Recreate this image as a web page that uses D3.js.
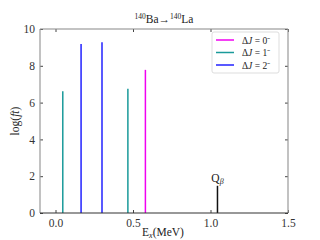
<!DOCTYPE html>
<html><head><meta charset="utf-8">
<script src="https://cdn.jsdelivr.net/npm/d3@7"></script>
<style>body{margin:0;background:#fff}svg{display:block}text{font-family:"Liberation Serif",serif}</style>
</head><body>
<script>
const energies = [0.047, 0.165, 0.30, 0.467, 0.58];
const logft = [6.62, 9.18, 9.28, 6.75, 7.78];
const deltaJ = ["1-", "2-", "2-", "1-", "0-"];
const legendLabels = ["0\u207B", "1\u207B", "2\u207B"];
const legendKeys = ["0-", "1-", "2-"];
const qBeta = 1.045, qBetaHeight = 1.48;
const xTicks = [0.0, 0.5, 1.0, 1.5];
const yTicks = [0, 2, 4, 6, 8, 10];
const colors = {"0-": "#f000f0", "1-": "#1a9a9a", "2-": "#2222ff"};

const W = 320, H = 240;
const m = {l: 40, r: 32, t: 29, b: 27};
const svg = d3.select("body").append("svg").attr("width", W).attr("height", H);
const x = d3.scaleLinear().domain([-0.1, 1.5]).range([m.l, W - m.r]);
const y = d3.scaleLinear().domain([0, 10]).range([H - m.b, m.t]);

const fs = 11.5;
const gx = svg.append("g").attr("transform", `translate(0,${H - m.b})`)
  .call(d3.axisBottom(x).tickValues(xTicks).tickFormat(d3.format(".1f")).tickSize(-3).tickPadding(6));
const gy = svg.append("g").attr("transform", `translate(${m.l},0)`)
  .call(d3.axisLeft(y).tickValues(yTicks).tickFormat(d3.format("d")).tickSize(-3).tickPadding(5));
const gt = svg.append("g").attr("transform", `translate(0,${m.t})`)
  .call(d3.axisTop(x).tickValues(xTicks).tickFormat("").tickSize(-3));
const gr = svg.append("g").attr("transform", `translate(${W - m.r},0)`)
  .call(d3.axisRight(y).tickValues(yTicks).tickFormat("").tickSize(-3));
[gx, gy, gt, gr].forEach(g => {
  g.select(".domain").remove();
  g.selectAll("text").attr("font-family", "Liberation Serif").attr("font-size", fs).attr("fill", "#333");
  g.selectAll("line").attr("stroke", "#444");
});

svg.append("line").attr("x1", x(-0.1)).attr("x2", x(1.5)).attr("y1", y(10)).attr("y2", y(10)).attr("stroke", "#888").attr("stroke-width", 1.2);
svg.append("line").attr("x1", x(1.5)).attr("x2", x(1.5)).attr("y1", y(10)).attr("y2", y(0)).attr("stroke", "#999").attr("stroke-width", 1.2);
svg.append("line").attr("x1", x(-0.1)).attr("x2", x(-0.1)).attr("y1", y(10)).attr("y2", y(0)).attr("stroke", "#999").attr("stroke-width", 1.2);

svg.append("g").selectAll("line").data(energies).join("line")
  .attr("x1", d => x(d)).attr("x2", d => x(d))
  .attr("y1", y(0)).attr("y2", (d, i) => y(logft[i]))
  .attr("stroke", (d, i) => colors[deltaJ[i]]).attr("stroke-width", 1.5);

svg.append("line").attr("x1", x(qBeta)).attr("x2", x(qBeta)).attr("y1", y(0)).attr("y2", y(qBetaHeight))
  .attr("stroke", "#111").attr("stroke-width", 1.5);
const qt = svg.append("text").attr("x", x(qBeta)).attr("y", y(qBetaHeight) - 4).attr("text-anchor", "middle")
  .attr("font-size", 11.5).attr("fill", "#222");
qt.append("tspan").text("Q");
qt.append("tspan").attr("font-size", 8).attr("font-style", "italic").attr("dy", 2).text("\u03B2");

svg.append("line").attr("x1", x(-0.1)).attr("x2", x(1.5)).attr("y1", y(0)).attr("y2", y(0)).attr("stroke", "#333").attr("stroke-width", 1.2);

const tt = svg.append("text").attr("x", 164).attr("y", 23).attr("text-anchor", "middle").attr("font-size", 11.5).attr("fill", "#222");
tt.append("tspan").attr("font-size", 7.5).attr("dy", -4).text("140");
tt.append("tspan").attr("dy", 4).text("Ba\u2192");
tt.append("tspan").attr("font-size", 7.5).attr("dy", -4).text("140");
tt.append("tspan").attr("dy", 4).text("La");

const xl = svg.append("text").attr("x", 163).attr("y", 236).attr("text-anchor", "middle").attr("font-size", 11.5).attr("fill", "#222");
xl.append("tspan").text("E");
xl.append("tspan").attr("font-size", 8).attr("font-style", "italic").attr("dy", 2).text("x");
xl.append("tspan").attr("dy", -2).text("(MeV)");
const yl = svg.append("text").attr("transform", `translate(19,${(m.t + H - m.b) / 2}) rotate(-90)`)
  .attr("text-anchor", "middle").attr("font-size", 11.5).attr("fill", "#222");
yl.append("tspan").text("log(");
yl.append("tspan").attr("font-style", "italic").text("ft");
yl.append("tspan").text(")");

const lg = svg.append("g").attr("transform", "translate(212,32)");
lg.append("rect").attr("width", 67).attr("height", 41).attr("rx", 2).attr("fill", "#fff").attr("stroke", "#ddd");
legendKeys.forEach((k, i) => {
  const yy = 8 + i * 12.5;
  lg.append("line").attr("x1", 4).attr("x2", 22).attr("y1", yy).attr("y2", yy).attr("stroke", colors[k]).attr("stroke-width", 1.5);
  const t = lg.append("text").attr("x", 30).attr("y", yy + 3.5).attr("font-size", 9.5).attr("fill", "#222");
  t.append("tspan").text("\u0394");
  t.append("tspan").attr("font-style", "italic").text("J");
  t.append("tspan").text(" = " + legendLabels[i]);
});
</script>
</body></html>
